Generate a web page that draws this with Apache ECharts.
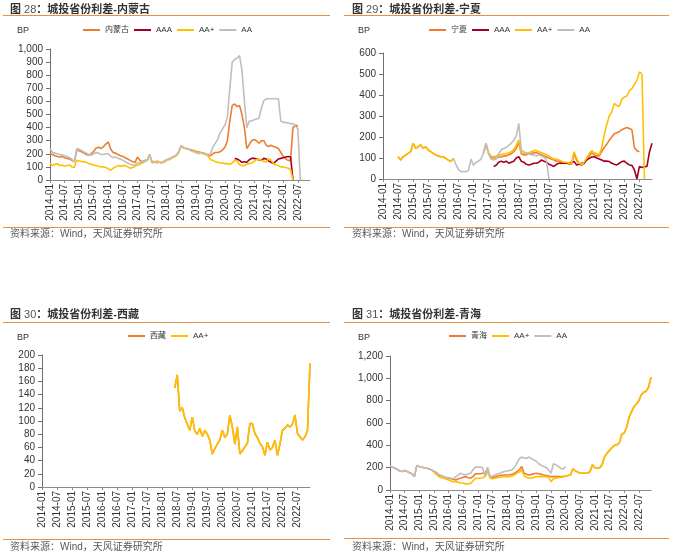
<!DOCTYPE html>
<html>
<head>
<meta charset="utf-8">
<script src="https://cdn.jsdelivr.net/npm/echarts@6/dist/echarts.min.js"></script>
<style>
  html,body{margin:0;padding:0;background:#fff;}
  #c{position:absolute;left:0;top:0;width:673px;height:557px;}
  .title{position:absolute;font-family:"Liberation Sans","Noto Sans CJK SC",sans-serif;font-size:11px;line-height:12px;color:#333;white-space:nowrap;font-weight:bold;}
  .title span{font-weight:normal;color:#555;}
  .rule{position:absolute;height:1px;background:#E98F45;}
  .src{position:absolute;font-family:"Liberation Sans","Noto Sans CJK SC",sans-serif;font-size:10px;line-height:12px;color:#595959;white-space:nowrap;}
  .bp{position:absolute;font-family:"Liberation Sans",sans-serif;font-size:9px;line-height:10px;color:#333;}
</style>
</head>
<body>
<div id="c"></div>

<div class="title" style="left:10px;top:3px">图<span> 28</span>：城投省份利差-内蒙古</div>
<div class="rule" style="left:3px;top:15px;width:327px"></div>
<div class="bp" style="left:17px;top:25px">BP</div>
<div class="rule" style="left:3px;top:227px;width:327px"></div>
<div class="src" style="left:10px;top:228px">资料来源：Wind，天风证券研究所</div>

<div class="title" style="left:352px;top:3px">图<span> 29</span>：城投省份利差-宁夏</div>
<div class="rule" style="left:344px;top:15px;width:325px"></div>
<div class="bp" style="left:358px;top:25px">BP</div>
<div class="rule" style="left:344px;top:227px;width:325px"></div>
<div class="src" style="left:352px;top:228px">资料来源：Wind，天风证券研究所</div>

<div class="title" style="left:10px;top:308px">图<span> 30</span>：城投省份利差-西藏</div>
<div class="rule" style="left:3px;top:322px;width:327px"></div>
<div class="bp" style="left:17px;top:332px">BP</div>
<div class="rule" style="left:3px;top:539px;width:327px"></div>
<div class="src" style="left:10px;top:541px">资料来源：Wind，天风证券研究所</div>

<div class="title" style="left:352px;top:308px">图<span> 31</span>：城投省份利差-青海</div>
<div class="rule" style="left:344px;top:322px;width:325px"></div>
<div class="bp" style="left:358px;top:332px">BP</div>
<div class="rule" style="left:344px;top:538px;width:325px"></div>
<div class="src" style="left:352px;top:541px">资料来源：Wind，天风证券研究所</div>

<script>
const _ = null;
const YEARS = [2014, 2015, 2016, 2017, 2018, 2019, 2020, 2021, 2022];
const MONTHS = ['01','02','03','04','05','06','07','08','09','10','11','12'];
const CATS = [];
YEARS.forEach(y => MONTHS.forEach(m => CATS.push(y + '-' + m)));

// ---- 图28 内蒙古 ----
const nmgProv = [
  200,195,185,180,175,180,170,165,160,150,140,225,
  225,215,205,195,190,200,220,245,250,240,255,275,
  290,235,210,205,195,185,180,170,160,150,140,135,
  175,150,140,150,150,195,135,140,135,140,130,145,
  155,160,170,180,190,215,262,245,240,235,230,225,
  220,215,210,205,200,190,185,200,210,210,215,230,
  250,300,450,570,580,560,570,500,400,240,270,300,
  310,300,280,300,300,265,255,265,255,250,240,210,
  180,160,150,150,400,420,410,_,_,_,_,_
];
const nmgAAA = [
  _,_,_,_,_,_,_,_,_,_,_,_,
  _,_,_,_,_,_,_,_,_,_,_,_,
  _,_,_,_,_,_,_,_,_,_,_,_,
  _,_,_,_,_,_,_,_,_,_,_,_,
  _,_,_,_,_,_,_,_,_,_,_,_,
  _,_,_,_,_,_,_,_,_,_,_,_,
  _,_,_,_,165,160,150,135,140,135,155,165,
  165,160,155,150,165,160,145,135,125,145,160,165,
  170,175,180,175,0,_,_,_,_,_,_,_
];
const nmgAAp = [
  125,110,120,125,110,115,105,110,115,100,95,150,
  145,140,140,135,125,120,115,110,105,100,100,95,
  85,75,90,100,110,105,110,110,100,90,95,105,
  115,120,130,140,150,190,140,140,145,140,135,135,
  150,155,165,175,185,210,262,245,240,235,225,220,
  215,210,210,200,195,185,155,150,140,135,130,130,
  125,125,120,130,150,145,115,110,110,120,125,130,
  140,155,160,150,140,140,165,150,125,115,110,100,
  100,95,90,80,0,_,_,_,_,_,_,_
];
const nmgAA = [
  240,210,205,200,195,190,185,180,170,160,135,240,
  235,225,215,205,195,190,200,210,205,195,195,200,
  200,180,170,175,165,160,150,140,130,120,115,115,
  130,135,135,145,150,195,130,135,130,135,130,145,
  155,160,170,180,190,215,262,245,240,235,225,215,
  210,200,205,205,200,195,200,250,280,310,360,390,
  420,480,700,900,920,930,950,840,600,400,450,450,
  460,465,470,550,605,620,620,620,620,620,620,450,
  440,440,435,430,430,410,390,0,_,_,_,_
];

// ---- 图29 宁夏 ----
const nxProv = [
  _,_,_,_,_,_,106,90,106,114,122,130,
  170,146,154,162,146,154,138,130,122,114,110,106,
  106,98,90,83,98,_,_,_,_,_,_,_,
  _,_,_,_,125,165,120,105,100,100,105,105,
  110,110,115,120,130,145,175,120,115,115,120,120,
  125,125,120,115,110,105,100,95,90,85,85,80,
  75,75,70,70,120,90,70,65,75,95,110,125,
  115,110,110,130,150,165,185,200,215,220,225,235,
  240,245,240,235,150,135,130,_,_,_,_,_
];
const nxAAA = [
  _,_,_,_,_,_,_,_,_,_,_,_,
  _,_,_,_,_,_,_,_,_,_,_,_,
  _,_,_,_,_,_,_,_,_,_,_,_,
  _,_,_,_,_,_,_,_,60,65,80,85,
  80,85,75,80,85,100,106,85,80,70,67,70,
  75,75,80,90,85,80,70,65,60,70,75,75,
  75,75,75,80,83,67,70,75,75,90,98,105,
  106,100,95,90,85,85,83,75,70,67,75,83,
  85,75,67,65,43,0,60,55,58,60,130,170
];
const nxAAp = [
  _,_,_,_,_,_,106,90,106,114,122,130,
  170,146,154,162,146,154,138,130,122,114,110,106,
  106,98,90,83,98,_,_,_,_,_,_,_,
  _,_,_,_,130,167,125,110,105,110,115,115,
  120,120,125,130,140,160,185,125,122,120,125,130,
  135,135,130,125,120,115,110,100,95,95,90,85,
  80,80,75,75,130,100,75,70,80,100,120,135,
  125,120,115,150,210,260,300,320,360,350,345,380,
  390,395,420,430,450,470,510,500,0,_,_,_
];
const nxAA = [
  _,_,_,_,_,_,_,_,_,_,_,_,
  _,_,_,_,_,_,_,_,_,_,_,_,
  _,_,_,_,98,70,45,35,35,35,40,95,
  65,80,85,95,125,170,120,95,90,95,120,138,
  145,150,160,170,185,205,265,140,130,125,120,115,
  115,110,115,110,105,90,0,_,_,_,_,_,
  _,_,_,_,_,_,_,_,_,_,_,_,
  _,_,_,_,_,_,_,_,_,_,_,_,
  _,_,_,_,_,_,_,_,_,_,_,_
];

// ---- 图30 西藏 ----
const xzProv = [
  _,_,_,_,_,_,_,_,_,_,_,_,
  _,_,_,_,_,_,_,_,_,_,_,_,
  _,_,_,_,_,_,_,_,_,_,_,_,
  _,_,_,_,_,_,_,_,_,_,_,_,
  _,_,_,_,_,150,170,115,120,105,95,86,
  106,85,80,89,77,86,80,71,50,58,65,71,
  86,75,80,109,91,65,91,50,55,61,66,96,
  96,81,75,66,61,48,68,56,60,71,48,65,
  86,89,94,91,95,109,81,76,71,76,86,187
];
const xzAAp = [
  _,_,_,_,_,_,_,_,_,_,_,_,
  _,_,_,_,_,_,_,_,_,_,_,_,
  _,_,_,_,_,_,_,_,_,_,_,_,
  _,_,_,_,_,_,_,_,_,_,_,_,
  _,_,_,_,_,150,170,115,120,105,95,86,
  106,85,80,89,77,86,80,71,50,58,65,71,
  86,75,80,109,91,65,91,50,55,61,66,96,
  96,81,75,66,61,48,68,56,60,71,48,65,
  86,89,94,91,95,109,81,76,71,76,86,187
];

// ---- 图31 青海 ----
const qhProv = [
  215,205,195,185,170,165,175,165,155,145,120,220,
  210,205,200,195,190,180,165,150,135,125,120,110,
  105,100,95,90,100,105,115,120,110,105,120,145,
  145,145,150,150,195,120,115,115,125,130,135,135,
  135,135,140,150,165,180,210,150,140,135,140,145,
  150,145,140,135,130,125,120,120,120,120,120,120,
  125,130,135,190,170,160,150,150,150,150,165,225,
  200,195,200,230,300,330,355,380,400,405,420,500,
  510,560,650,700,745,770,800,850,875,885,920,1010
];
const qhAAp = [
  _,_,_,_,_,_,_,_,_,_,_,_,
  _,_,_,_,_,_,160,140,120,110,105,98,
  90,80,75,75,70,62,60,55,55,60,80,104,
  105,105,110,120,165,105,100,105,110,115,120,120,
  120,120,125,135,150,160,180,125,115,105,105,115,
  120,120,120,120,120,115,75,100,105,110,115,118,
  125,130,135,190,170,160,150,150,150,150,165,225,
  200,195,200,230,300,330,355,380,400,405,420,500,
  510,560,650,700,745,770,800,850,875,885,920,1010
];
const qhAA = [
  215,205,195,185,170,165,175,165,155,145,120,220,
  210,205,200,195,190,180,170,160,140,130,120,115,
  110,105,100,120,135,150,140,135,145,150,180,205,
  205,205,200,120,205,120,125,135,145,150,160,165,
  170,175,180,200,240,280,295,285,285,295,280,270,
  255,235,220,210,200,180,150,235,225,210,195,185,
  210,_,_,_,_,_,_,_,_,_,_,_,
  _,_,_,_,_,_,_,_,_,_,_,_,
  _,_,_,_,_,_,_,_,_,_,_,_
];

const C_PROV = '#ED7D31', C_AAA = '#A50021', C_AAP = '#FFC000', C_AA = '#BFBFBF';
const FONT = '"Liberation Sans", "Noto Sans CJK SC", sans-serif';

const grids = [
  {left: 50, top: 49, width: 260, height: 131},
  {left: 383, top: 53, width: 269, height: 126},
  {left: 42, top: 355, width: 268, height: 132},
  {left: 390, top: 356, width: 261, height: 134}
];
const yCfg = [
  {max: 1000, interval: 100},
  {max: 600, interval: 100},
  {max: 200, interval: 20},
  {max: 1200, interval: 200}
];
const fmt = v => String(v).replace(/\B(?=(\d{3})+(?!\d))/g, ',');

const xAxis = grids.map((g, i) => ({
  type: 'category', gridIndex: i, data: CATS, boundaryGap: false,
  axisLine: {lineStyle: {color: '#8c8c8c', width: 1}},
  axisTick: {show: true, interval: 5, length: 3, lineStyle: {color: '#8c8c8c'}},
  axisLabel: {interval: 5, rotate: 90, fontSize: 10, color: '#333', margin: 4, fontFamily: FONT}
}));
const yAxis = yCfg.map((c, i) => ({
  type: 'value', gridIndex: i, min: 0, max: c.max, interval: c.interval,
  axisLine: {show: true, lineStyle: {color: '#6f6f6f', width: 1}},
  axisTick: {show: true, length: 4, lineStyle: {color: '#6f6f6f'}},
  splitLine: {show: false},
  axisLabel: {fontSize: 10, color: '#333', margin: 7, fontFamily: FONT, formatter: fmt}
}));

function mk(name, data, color, gi) {
  return {
    type: 'line', name: name, data: data, xAxisIndex: gi, yAxisIndex: gi,
    showSymbol: false, symbol: 'none', connectNulls: false,
    lineStyle: {color: color, width: 1.6}, itemStyle: {color: color},
    emphasis: {disabled: true}
  };
}

const series = [
  mk('内蒙古', nmgProv, C_PROV, 0), mk('AAA', nmgAAA, C_AAA, 0), mk('AA+', nmgAAp, C_AAP, 0), mk('AA', nmgAA, C_AA, 0),
  mk('宁夏', nxProv, C_PROV, 1), mk('AAA', nxAAA, C_AAA, 1), mk('AA+', nxAAp, C_AAP, 1), mk('AA', nxAA, C_AA, 1),
  mk('西藏', xzProv, C_PROV, 2), mk('AA+', xzAAp, C_AAP, 2),
  mk('青海', qhProv, C_PROV, 3), mk('AA+', qhAAp, C_AAP, 3), mk('AA', qhAA, C_AA, 3)
];

const legCommon = {
  icon: 'rect', itemWidth: 17, itemHeight: 2, itemGap: 5, padding: 0, selectedMode: false,
  textStyle: {fontSize: 8, color: '#333', fontFamily: FONT}
};
const legend = [
  Object.assign({data: ['内蒙古', 'AAA', 'AA+', 'AA'], left: 83, top: 26}, legCommon),
  Object.assign({data: ['宁夏', 'AAA', 'AA+', 'AA'], left: 429, top: 26}, legCommon),
  Object.assign({data: ['西藏', 'AA+'], left: 128, top: 332}, legCommon),
  Object.assign({data: ['青海', 'AA+', 'AA'], left: 449, top: 332}, legCommon)
];

const chart = echarts.init(document.getElementById('c'));
chart.setOption({
  animation: false,
  backgroundColor: 'transparent',
  grid: grids,
  xAxis: xAxis,
  yAxis: yAxis,
  legend: legend,
  series: series
});
</script>
</body>
</html>
